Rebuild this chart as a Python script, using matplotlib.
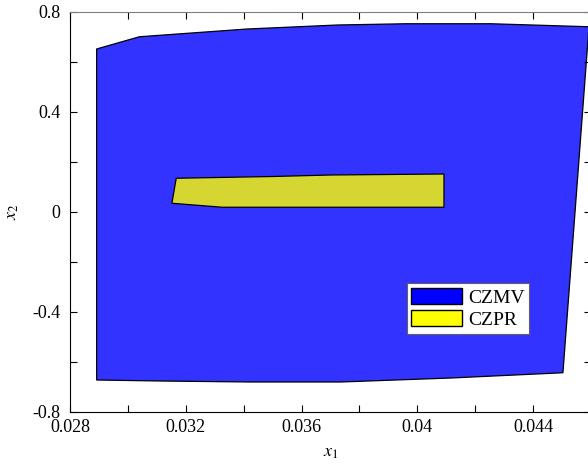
import matplotlib
matplotlib.use("Agg")
from matplotlib import pyplot as plt
from matplotlib.patches import Polygon, Patch
from matplotlib.ticker import MultipleLocator

# CZMV region boundary (x1, x2)
czmv_x1 = [0.02892, 0.03040, 0.03412, 0.03724, 0.03960, 0.04255, 0.04593,
           0.04503, 0.04116, 0.03735, 0.03424, 0.03112, 0.02892]
czmv_x2 = [0.652, 0.701, 0.732, 0.748, 0.753, 0.753, 0.741,
           -0.643, -0.664, -0.680, -0.680, -0.676, -0.672]

# CZPR region boundary (x1, x2)
czpr_x1 = [0.03167, 0.03500, 0.03700, 0.04092, 0.04092, 0.03326, 0.03152]
czpr_x2 = [0.135, 0.142, 0.148, 0.152, 0.019, 0.019, 0.035]

labels = ["CZMV", "CZPR"]

plt.rcParams["font.family"] = ["Liberation Serif", "DejaVu Serif"]
plt.rcParams["mathtext.fontset"] = "stix"
plt.rcParams["font.size"] = 13

fig = plt.figure(figsize=(5.88, 4.71), dpi=100)
ax = fig.add_axes([70 / 588, (471 - 412) / 471, 521 / 588, 400 / 471])

ax.add_patch(Polygon(list(zip(czmv_x1, czmv_x2)), closed=True,
                     facecolor="#3333ff", edgecolor="black", linewidth=0.9))
ax.add_patch(Polygon(list(zip(czpr_x1, czpr_x2)), closed=True,
                     facecolor="#d6d633", edgecolor="black", linewidth=0.9))

ax.set_xlim(0.028, 0.046)
ax.set_ylim(-0.8, 0.8)
ax.xaxis.set_minor_locator(MultipleLocator(0.002))
ax.yaxis.set_minor_locator(MultipleLocator(0.2))
ax.set_xticks([0.028, 0.032, 0.036, 0.04, 0.044])
ax.set_xticklabels(["0.028", "0.032", "0.036", "0.04", "0.044"])
ax.set_yticks([-0.8, -0.4, 0, 0.4, 0.8])
ax.set_yticklabels(["-0.8", "-0.4", "0", "0.4", "0.8"])
ax.tick_params(which="both", direction="in", top=True, right=True,
               length=5, width=0.8, labelsize=13)
ax.tick_params(axis="x", which="both", pad=5)
ax.tick_params(axis="y", which="both", pad=7)
for s in ["top", "right"]:
    ax.spines[s].set_color("#808080")
for s in ["left", "bottom"]:
    ax.spines[s].set_color("black")

ax.set_xlabel("$x_1$", fontsize=13, labelpad=6)
ax.set_ylabel("$x_2$", fontsize=13, labelpad=8)

handles = [Patch(facecolor="blue", edgecolor="black", label=labels[0]),
           Patch(facecolor="yellow", edgecolor="black", label=labels[1])]
leg = ax.legend(handles=handles, loc="upper left", bbox_to_anchor=(0.646, 0.323),
                fancybox=False, framealpha=1, edgecolor="#606060",
                handlelength=2.6, handleheight=0.95, handletextpad=0.3,
                labelspacing=0.15, borderpad=0.25, borderaxespad=0, fontsize=14)
leg.get_frame().set_linewidth(0.8)

fig.savefig("out.png", dpi=100)
